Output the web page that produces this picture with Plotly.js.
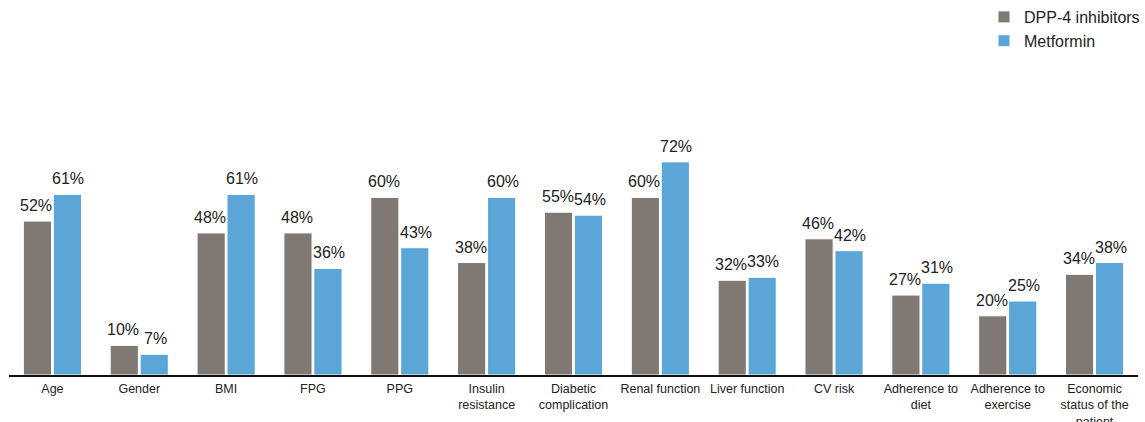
<!DOCTYPE html>
<html>
<head>
<meta charset="utf-8">
<script src="https://cdn.plot.ly/plotly-3.0.1.min.js"></script>
<style>html,body{margin:0;padding:0;background:#fff;}#chart{width:1145px;height:422px;}</style>
</head>
<body>
<div id="chart"></div>
<script>
const categories = ["Age","Gender","BMI","FPG","PPG","Insulin<br>resistance","Diabetic<br>complication","Renal function","Liver function","CV risk","Adherence to<br>diet","Adherence to<br>exercise","Economic<br>status of the<br>patient"];
const dpp4 = [52,10,48,48,60,38,55,60,32,46,27,20,34];
const metformin = [61,7,61,36,43,60,54,72,33,42,31,25,38];

const traces = [
  {type:"bar", name:"DPP-4 inhibitors", x:categories, y:dpp4,
   marker:{color:"#807873", line:{color:"#ffffff", width:1}}},
  {type:"bar", name:"Metformin", x:categories, y:metformin,
   marker:{color:"#5ba6d6", line:{color:"#ffffff", width:1}}}
];
const annotations = [];
[[dpp4,-16],[metformin,16]].forEach(([vals,dx]) => {
  vals.forEach((v,i) => annotations.push({x:categories[i], y:v, xref:"x", yref:"y", text:v+"%",
    showarrow:false, xanchor:"center", yanchor:"bottom", xshift:dx, yshift:5,
    font:{size:16, color:"#222"}}));
});
const layout = {
  width:1145, height:422,
  margin:{l:9, r:7, t:79, b:47, autoexpand:false},
  paper_bgcolor:"#ffffff", plot_bgcolor:"#ffffff",
  font:{family:"Liberation Sans, Arial, sans-serif", color:"#222"},
  barmode:"group", bargap:0.31, bargroupgap:0.06,
  xaxis:{showline:true, linecolor:"#111", linewidth:2, ticks:"", tickangle:0, automargin:false, ticklabelstandoff:1, tickfont:{size:12.5, color:"#222"}, showgrid:false, zeroline:false},
  yaxis:{range:[0,100], visible:false, showgrid:false, zeroline:false},
  legend:{x:1, xanchor:"right", y:1, yanchor:"top", xref:"container", yref:"container", font:{size:16, color:"#222"}, itemwidth:30, tracegroupgap:0, bgcolor:"rgba(0,0,0,0)"},
  annotations:annotations,
  showlegend:true
};
Plotly.newPlot("chart", traces, layout, {displayModeBar:false, staticPlot:true});
</script>
</body>
</html>
